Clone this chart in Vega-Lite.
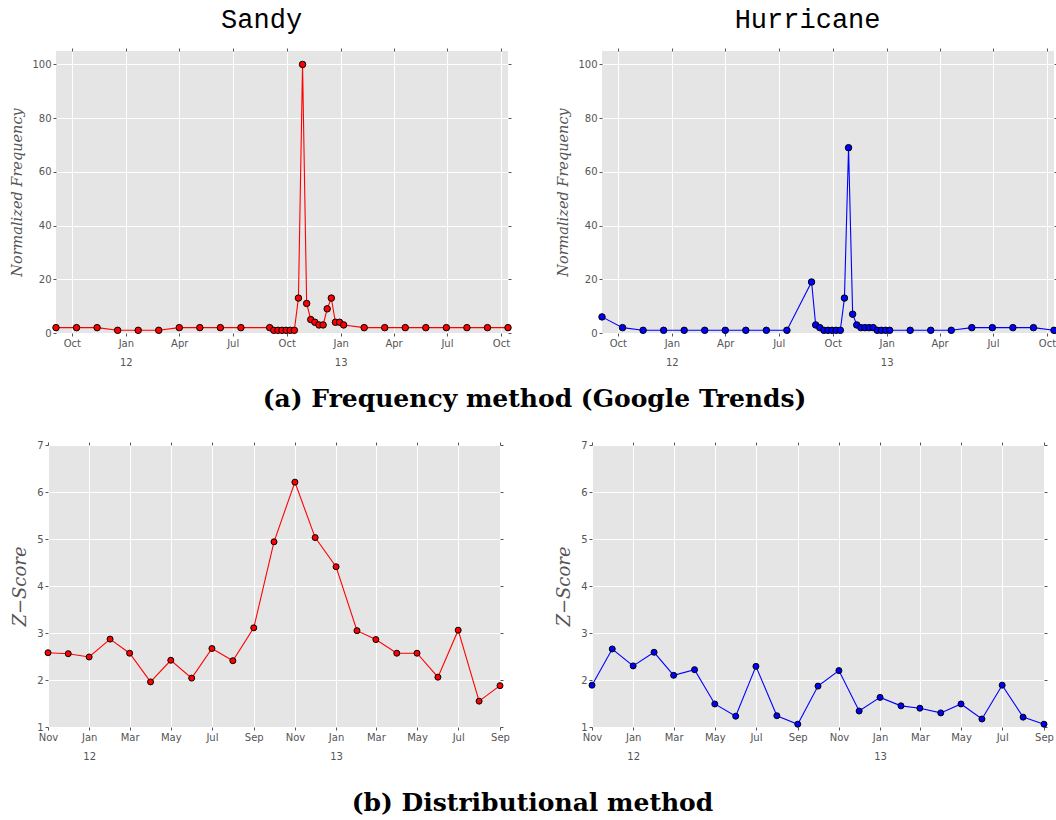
{
  "$schema": "https://vega.github.io/schema/vega-lite/v6.json",
  "background": "white",
  "padding": {"left": 9, "top": 5, "right": 0, "bottom": 0},
  "config": {
    "view": {"stroke": null, "fill": "#E5E5E5"},
    "axis": {
      "labelFont": "DejaVu Sans", "labelFontSize": 10, "labelColor": "#555555",
      "tickColor": "#555555", "tickSize": 3, "domain": false,
      "gridColor": "#FFFFFF", "gridWidth": 1, "gridOpacity": 1,
      "titleColor": "#555555", "titleFont": "DejaVu Serif", "titleFontStyle": "italic", "titleFontWeight": "normal"
    }
  },
  "datasets": {
    "sandyFreq": [
      {"date": "2011-09-04", "value": 2}, {"date": "2011-10-09", "value": 2}, {"date": "2011-11-13", "value": 2},
      {"date": "2011-12-18", "value": 1}, {"date": "2012-01-22", "value": 1}, {"date": "2012-02-26", "value": 1},
      {"date": "2012-04-01", "value": 2}, {"date": "2012-05-06", "value": 2}, {"date": "2012-06-10", "value": 2},
      {"date": "2012-07-15", "value": 2}, {"date": "2012-09-02", "value": 2}, {"date": "2012-09-09", "value": 1},
      {"date": "2012-09-16", "value": 1}, {"date": "2012-09-23", "value": 1}, {"date": "2012-09-30", "value": 1},
      {"date": "2012-10-07", "value": 1}, {"date": "2012-10-14", "value": 1}, {"date": "2012-10-21", "value": 13},
      {"date": "2012-10-28", "value": 100}, {"date": "2012-11-04", "value": 11}, {"date": "2012-11-11", "value": 5},
      {"date": "2012-11-18", "value": 4}, {"date": "2012-11-25", "value": 3}, {"date": "2012-12-02", "value": 3},
      {"date": "2012-12-09", "value": 9}, {"date": "2012-12-16", "value": 13}, {"date": "2012-12-23", "value": 4},
      {"date": "2012-12-30", "value": 4}, {"date": "2013-01-06", "value": 3}, {"date": "2013-02-10", "value": 2},
      {"date": "2013-03-17", "value": 2}, {"date": "2013-04-21", "value": 2}, {"date": "2013-05-26", "value": 2},
      {"date": "2013-06-30", "value": 2}, {"date": "2013-08-04", "value": 2}, {"date": "2013-09-08", "value": 2},
      {"date": "2013-10-13", "value": 2}
    ],
    "hurrFreq": [
      {"date": "2011-09-04", "value": 6}, {"date": "2011-10-09", "value": 2}, {"date": "2011-11-13", "value": 1},
      {"date": "2011-12-18", "value": 1}, {"date": "2012-01-22", "value": 1}, {"date": "2012-02-26", "value": 1},
      {"date": "2012-04-01", "value": 1}, {"date": "2012-05-06", "value": 1}, {"date": "2012-06-10", "value": 1},
      {"date": "2012-07-15", "value": 1}, {"date": "2012-08-26", "value": 19}, {"date": "2012-09-02", "value": 3},
      {"date": "2012-09-09", "value": 2}, {"date": "2012-09-16", "value": 1}, {"date": "2012-09-23", "value": 1},
      {"date": "2012-09-30", "value": 1}, {"date": "2012-10-07", "value": 1}, {"date": "2012-10-14", "value": 1},
      {"date": "2012-10-21", "value": 13}, {"date": "2012-10-28", "value": 69}, {"date": "2012-11-04", "value": 7},
      {"date": "2012-11-11", "value": 3}, {"date": "2012-11-18", "value": 2}, {"date": "2012-11-25", "value": 2},
      {"date": "2012-12-02", "value": 2}, {"date": "2012-12-09", "value": 2}, {"date": "2012-12-16", "value": 1},
      {"date": "2012-12-23", "value": 1}, {"date": "2012-12-30", "value": 1}, {"date": "2013-01-06", "value": 1},
      {"date": "2013-02-10", "value": 1}, {"date": "2013-03-17", "value": 1}, {"date": "2013-04-21", "value": 1},
      {"date": "2013-05-26", "value": 2}, {"date": "2013-06-30", "value": 2}, {"date": "2013-08-04", "value": 2},
      {"date": "2013-09-08", "value": 2}, {"date": "2013-10-13", "value": 1}
    ],
    "sandyZ": [
      {"date": "2011-11-01", "value": 2.58}, {"date": "2011-12-01", "value": 2.56}, {"date": "2012-01-01", "value": 2.49},
      {"date": "2012-02-01", "value": 2.87}, {"date": "2012-03-01", "value": 2.57}, {"date": "2012-04-01", "value": 1.96},
      {"date": "2012-05-01", "value": 2.42}, {"date": "2012-06-01", "value": 2.04}, {"date": "2012-07-01", "value": 2.67},
      {"date": "2012-08-01", "value": 2.41}, {"date": "2012-09-01", "value": 3.11}, {"date": "2012-10-01", "value": 4.94},
      {"date": "2012-11-01", "value": 6.21}, {"date": "2012-12-01", "value": 5.03}, {"date": "2013-01-01", "value": 4.41},
      {"date": "2013-02-01", "value": 3.05}, {"date": "2013-03-01", "value": 2.86}, {"date": "2013-04-01", "value": 2.57},
      {"date": "2013-05-01", "value": 2.57}, {"date": "2013-06-01", "value": 2.06}, {"date": "2013-07-01", "value": 3.06},
      {"date": "2013-08-01", "value": 1.55}, {"date": "2013-09-01", "value": 1.88}
    ],
    "hurrZ": [
      {"date": "2011-11-01", "value": 1.89}, {"date": "2011-12-01", "value": 2.66}, {"date": "2012-01-01", "value": 2.30},
      {"date": "2012-02-01", "value": 2.59}, {"date": "2012-03-01", "value": 2.10}, {"date": "2012-04-01", "value": 2.22},
      {"date": "2012-05-01", "value": 1.49}, {"date": "2012-06-01", "value": 1.23}, {"date": "2012-07-01", "value": 2.29},
      {"date": "2012-08-01", "value": 1.24}, {"date": "2012-09-01", "value": 1.06}, {"date": "2012-10-01", "value": 1.87},
      {"date": "2012-11-01", "value": 2.20}, {"date": "2012-12-01", "value": 1.34}, {"date": "2013-01-01", "value": 1.63},
      {"date": "2013-02-01", "value": 1.45}, {"date": "2013-03-01", "value": 1.40}, {"date": "2013-04-01", "value": 1.30},
      {"date": "2013-05-01", "value": 1.49}, {"date": "2013-06-01", "value": 1.17}, {"date": "2013-07-01", "value": 1.89},
      {"date": "2013-08-01", "value": 1.21}, {"date": "2013-09-01", "value": 1.06}
    ]
  },
  "columns": 1,
  "spacing": 28,
  "concat": [
    {
      "title": {"text": "(a) Frequency method (Google Trends)", "orient": "bottom", "anchor": "middle", "font": "DejaVu Serif", "fontSize": 25, "fontWeight": "bold", "color": "black", "offset": 20},
      "spacing": -40,
      "hconcat": [
        {
          "width": 1, "height": 1,
          "view": {"fill": null, "stroke": null},
          "data": {"values": []},
          "mark": "point",
          "encoding": {}
        },
        {
          "spacing": 41,
          "hconcat": [
            {
              "width": 452, "height": 282,
              "title": {"text": "Sandy", "font": "Liberation Mono", "fontSize": 27, "fontWeight": "normal", "color": "black", "anchor": "middle", "frame": "bounds", "offset": 14},
              "data": {"name": "sandyFreq"},
              "layer": [
                {
                  "mark": {"type": "line", "color": "#FF0000", "strokeWidth": 1.1},
                  "encoding": {
                    "x": {"field": "date", "type": "temporal",
                      "scale": {"type": "utc", "nice": false, "domain": [{"year": 2011, "month": 9, "date": 4, "utc": true}, {"year": 2013, "month": 10, "date": 13, "utc": true}]},
                      "axis": {"orient": "bottom", "title": null, "grid": true, "tickCount": {"interval": "month", "step": 3}, "labelFlush": false, "labelOverlap": false, "labelPadding": 2, "labelLineHeight": 19,
                        "labelExpr": "utcmonth(datum.value) == 0 ? [utcFormat(datum.value, '%b'), utcFormat(datum.value, '%y')] : utcFormat(datum.value, '%b')"}},
                    "y": {"field": "value", "type": "quantitative",
                      "scale": {"domain": [0, 105], "nice": false, "zero": false},
                      "axis": {"orient": "left", "title": "Normalized  Frequency", "titleFontSize": 14.5, "titlePadding": 7, "grid": true, "values": [0, 20, 40, 60, 80, 100], "labelPadding": 2}}
                  }
                },
                {
                  "mark": {"type": "point", "filled": true, "fill": "#FF0000", "stroke": "#000000", "strokeWidth": 1, "size": 42, "opacity": 1},
                  "encoding": {
                    "x": {"field": "date", "type": "temporal", "axis": {"orient": "top", "title": null, "labels": false, "grid": false, "tickCount": {"interval": "month", "step": 3}}},
                    "y": {"field": "value", "type": "quantitative", "axis": {"orient": "right", "title": null, "labels": false, "grid": false, "values": [0, 20, 40, 60, 80, 100]}}
                  }
                }
              ],
              "resolve": {"axis": {"x": "independent", "y": "independent"}}
            },
            {
              "width": 452, "height": 282,
              "title": {"text": "Hurricane", "font": "Liberation Mono", "fontSize": 27, "fontWeight": "normal", "color": "black", "anchor": "middle", "frame": "bounds", "offset": 14},
              "data": {"name": "hurrFreq"},
              "layer": [
                {
                  "mark": {"type": "line", "color": "#0000FF", "strokeWidth": 1.1},
                  "encoding": {
                    "x": {"field": "date", "type": "temporal",
                      "scale": {"type": "utc", "nice": false, "domain": [{"year": 2011, "month": 9, "date": 4, "utc": true}, {"year": 2013, "month": 10, "date": 13, "utc": true}]},
                      "axis": {"orient": "bottom", "title": null, "grid": true, "tickCount": {"interval": "month", "step": 3}, "labelFlush": false, "labelOverlap": false, "labelPadding": 2, "labelLineHeight": 19,
                        "labelExpr": "utcmonth(datum.value) == 0 ? [utcFormat(datum.value, '%b'), utcFormat(datum.value, '%y')] : utcFormat(datum.value, '%b')"}},
                    "y": {"field": "value", "type": "quantitative",
                      "scale": {"domain": [0, 105], "nice": false, "zero": false},
                      "axis": {"orient": "left", "title": "Normalized  Frequency", "titleFontSize": 14.5, "titlePadding": 7, "grid": true, "values": [0, 20, 40, 60, 80, 100], "labelPadding": 2}}
                  }
                },
                {
                  "mark": {"type": "point", "filled": true, "fill": "#0000FF", "stroke": "#000000", "strokeWidth": 1, "size": 42, "opacity": 1},
                  "encoding": {
                    "x": {"field": "date", "type": "temporal", "axis": {"orient": "top", "title": null, "labels": false, "grid": false, "tickCount": {"interval": "month", "step": 3}}},
                    "y": {"field": "value", "type": "quantitative", "axis": {"orient": "right", "title": null, "labels": false, "grid": false, "values": [0, 20, 40, 60, 80, 100]}}
                  }
                }
              ],
              "resolve": {"axis": {"x": "independent", "y": "independent"}}
            }
          ]
        }
      ]
    },
    {
      "title": {"text": "(b) Distributional method", "orient": "bottom", "anchor": "middle", "font": "DejaVu Serif", "fontSize": 25, "fontWeight": "bold", "color": "black", "offset": 30},
      "spacing": 45,
      "hconcat": [
        {
          "width": 452, "height": 282,
          "data": {"name": "sandyZ"},
          "layer": [
            {
              "mark": {"type": "line", "color": "#FF0000", "strokeWidth": 1.1},
              "encoding": {
                "x": {"field": "date", "type": "temporal",
                  "scale": {"type": "utc", "nice": false, "domain": [{"year": 2011, "month": 11, "date": 1, "utc": true}, {"year": 2013, "month": 9, "date": 1, "utc": true}]},
                  "axis": {"orient": "bottom", "title": null, "grid": true, "tickCount": {"interval": "month", "step": 2}, "labelFlush": false, "labelOverlap": false, "labelPadding": 2, "labelLineHeight": 19,
                    "labelExpr": "utcmonth(datum.value) == 0 ? [utcFormat(datum.value, '%b'), utcFormat(datum.value, '%y')] : utcFormat(datum.value, '%b')"}},
                "y": {"field": "value", "type": "quantitative",
                  "scale": {"domain": [1, 7], "nice": false, "zero": false},
                  "axis": {"orient": "left", "title": "Z\u2212Score", "titleFontSize": 18, "titlePadding": 7, "grid": true, "values": [1, 2, 3, 4, 5, 6, 7], "labelPadding": 2}}
              }
            },
            {
              "mark": {"type": "point", "filled": true, "fill": "#FF0000", "stroke": "#000000", "strokeWidth": 1, "size": 36, "opacity": 1},
              "encoding": {
                "x": {"field": "date", "type": "temporal", "axis": {"orient": "top", "title": null, "labels": false, "grid": false, "tickCount": {"interval": "month", "step": 2}}},
                "y": {"field": "value", "type": "quantitative", "axis": {"orient": "right", "title": null, "labels": false, "grid": false, "values": [1, 2, 3, 4, 5, 6, 7]}}
              }
            }
          ],
          "resolve": {"axis": {"x": "independent", "y": "independent"}}
        },
        {
          "width": 452, "height": 282,
          "data": {"name": "hurrZ"},
          "layer": [
            {
              "mark": {"type": "line", "color": "#0000FF", "strokeWidth": 1.1},
              "encoding": {
                "x": {"field": "date", "type": "temporal",
                  "scale": {"type": "utc", "nice": false, "domain": [{"year": 2011, "month": 11, "date": 1, "utc": true}, {"year": 2013, "month": 9, "date": 1, "utc": true}]},
                  "axis": {"orient": "bottom", "title": null, "grid": true, "tickCount": {"interval": "month", "step": 2}, "labelFlush": false, "labelOverlap": false, "labelPadding": 2, "labelLineHeight": 19,
                    "labelExpr": "utcmonth(datum.value) == 0 ? [utcFormat(datum.value, '%b'), utcFormat(datum.value, '%y')] : utcFormat(datum.value, '%b')"}},
                "y": {"field": "value", "type": "quantitative",
                  "scale": {"domain": [1, 7], "nice": false, "zero": false},
                  "axis": {"orient": "left", "title": "Z\u2212Score", "titleFontSize": 18, "titlePadding": 7, "grid": true, "values": [1, 2, 3, 4, 5, 6, 7], "labelPadding": 2}}
              }
            },
            {
              "mark": {"type": "point", "filled": true, "fill": "#0000FF", "stroke": "#000000", "strokeWidth": 1, "size": 36, "opacity": 1},
              "encoding": {
                "x": {"field": "date", "type": "temporal", "axis": {"orient": "top", "title": null, "labels": false, "grid": false, "tickCount": {"interval": "month", "step": 2}}},
                "y": {"field": "value", "type": "quantitative", "axis": {"orient": "right", "title": null, "labels": false, "grid": false, "values": [1, 2, 3, 4, 5, 6, 7]}}
              }
            }
          ],
          "resolve": {"axis": {"x": "independent", "y": "independent"}}
        }
      ]
    }
  ]
}
